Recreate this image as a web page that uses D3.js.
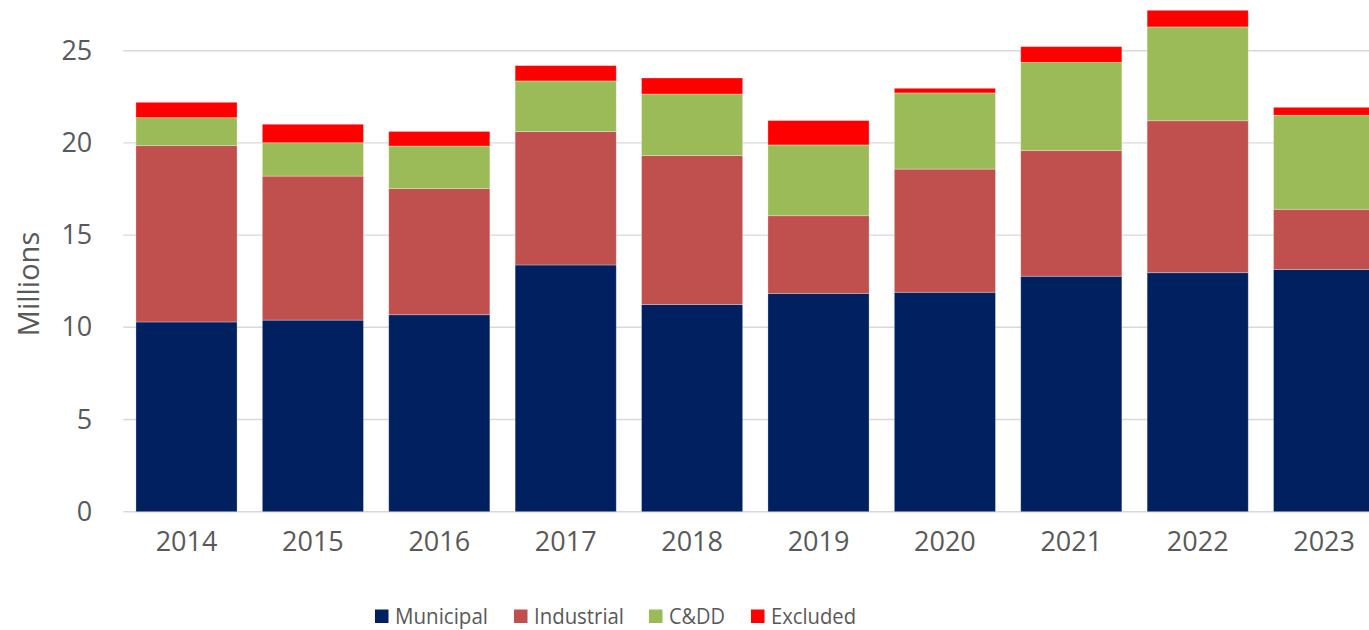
<!DOCTYPE html>
<html>
<head>
<meta charset="utf-8">
<script src="https://cdn.jsdelivr.net/npm/d3@7"></script>
<style>
  html, body { margin: 0; padding: 0; background: #fff; }
  svg { display: block; overflow: hidden; font-family: 'Open Sans', sans-serif; }
</style>
</head>
<body>
<div id="chart"></div>
<script>
const years = ['2014', '2015', '2016', '2017', '2018', '2019', '2020', '2021', '2022', '2023']
const municipal = [10.29, 10.39, 10.68, 13.38, 11.23, 11.84, 11.90, 12.77, 12.96, 13.14]
const industrial = [9.56, 7.81, 6.84, 7.23, 8.08, 4.21, 6.68, 6.81, 8.24, 3.26]
const cddd = [1.52, 1.81, 2.31, 2.75, 3.34, 3.84, 4.13, 4.79, 5.09, 5.10]
const excluded = [0.83, 1.00, 0.79, 0.83, 0.87, 1.32, 0.25, 0.85, 0.90, 0.43]
const yTicks = [0, 5, 10, 15, 20, 25]

const seriesNames = ['Municipal', 'Industrial', 'C&DD', 'Excluded']
const seriesColors = ['#002060', '#C0504D', '#9BBB59', '#FF0000']

const dimensions = {
  width: 1369,
  height: 630,
  left: 123.3,
  right: 1387.3,
  top: 0,
  bottom: 511.7,
}

const rows = years.map((y, i) => ({
  year: y,
  Municipal: municipal[i],
  Industrial: industrial[i],
  'C&DD': cddd[i],
  Excluded: excluded[i],
}))

const stack = d3.stack().keys(seriesNames)(rows)

const svg = d3.select('#chart')
  .append('svg')
  .attr('width', dimensions.width)
  .attr('height', dimensions.height)

const xScale = d3.scaleBand()
  .domain(years)
  .range([dimensions.left, dimensions.right])
  .paddingInner(0.2)
  .paddingOuter(0.1)

const yScale = d3.scaleLinear()
  .domain([0, 25])
  .range([dimensions.bottom, dimensions.bottom - 25 * 18.44])

// gridlines
svg.append('g')
  .selectAll('line')
  .data(yTicks)
  .join('line')
  .attr('x1', dimensions.left)
  .attr('x2', dimensions.right)
  .attr('y1', d => yScale(d))
  .attr('y2', d => yScale(d))
  .attr('stroke', '#d9d9d9')
  .attr('stroke-width', 1.4)

// bars
svg.append('g')
  .selectAll('g')
  .data(stack)
  .join('g')
  .attr('fill', (d, i) => seriesColors[i])
  .selectAll('rect')
  .data(d => d)
  .join('rect')
  .attr('x', d => xScale(d.data.year))
  .attr('width', xScale.bandwidth())
  .attr('y', d => yScale(d[1]))
  .attr('height', d => yScale(d[0]) - yScale(d[1]))
  .attr('stroke', 'rgba(255,255,255,0.35)')
  .attr('stroke-width', 0.8)

// y axis
const yAxis = d3.axisLeft(yScale)
  .tickValues(yTicks)
  .tickSize(0)
  .tickPadding(31)

const yAxisGroup = svg.append('g')
  .attr('transform', `translate(${dimensions.left},0)`)
  .call(yAxis)
yAxisGroup.select('.domain').remove()
yAxisGroup.selectAll('text')
  .attr('fill', '#595959')
  .style('font-size', '27px')
  .style('font-family', "'Open Sans', sans-serif")

// x axis
const xAxis = d3.axisBottom(xScale)
  .tickSize(0)
  .tickPadding(20)

const xAxisGroup = svg.append('g')
  .attr('transform', `translate(0,${dimensions.bottom})`)
  .call(xAxis)
xAxisGroup.select('.domain').remove()
xAxisGroup.selectAll('text')
  .attr('fill', '#595959')
  .style('font-size', '27px')
  .style('font-family', "'Open Sans', sans-serif")

// y title
svg.append('text')
  .attr('transform', 'translate(39,284) rotate(-90)')
  .attr('text-anchor', 'middle')
  .attr('fill', '#595959')
  .style('font-size', '29px')
  .text('Millions')

// legend
const legendX = [375, 514, 649, 751]
const legendW = [93, 90, 56, 85]
const legend = svg.append('g')
  .selectAll('g')
  .data(seriesNames)
  .join('g')
  .attr('transform', (d, i) => `translate(${legendX[i]},609.5)`)

legend.append('rect')
  .attr('width', 13.5)
  .attr('height', 13.5)
  .attr('fill', (d, i) => seriesColors[i])

legend.append('text')
  .attr('x', 20)
  .attr('y', 14)
  .attr('fill', '#595959')
  .attr('textLength', (d, i) => legendW[i])
  .attr('lengthAdjust', 'spacingAndGlyphs')
  .style('font-size', '22px')
  .text(d => d)
</script>
</body>
</html>
